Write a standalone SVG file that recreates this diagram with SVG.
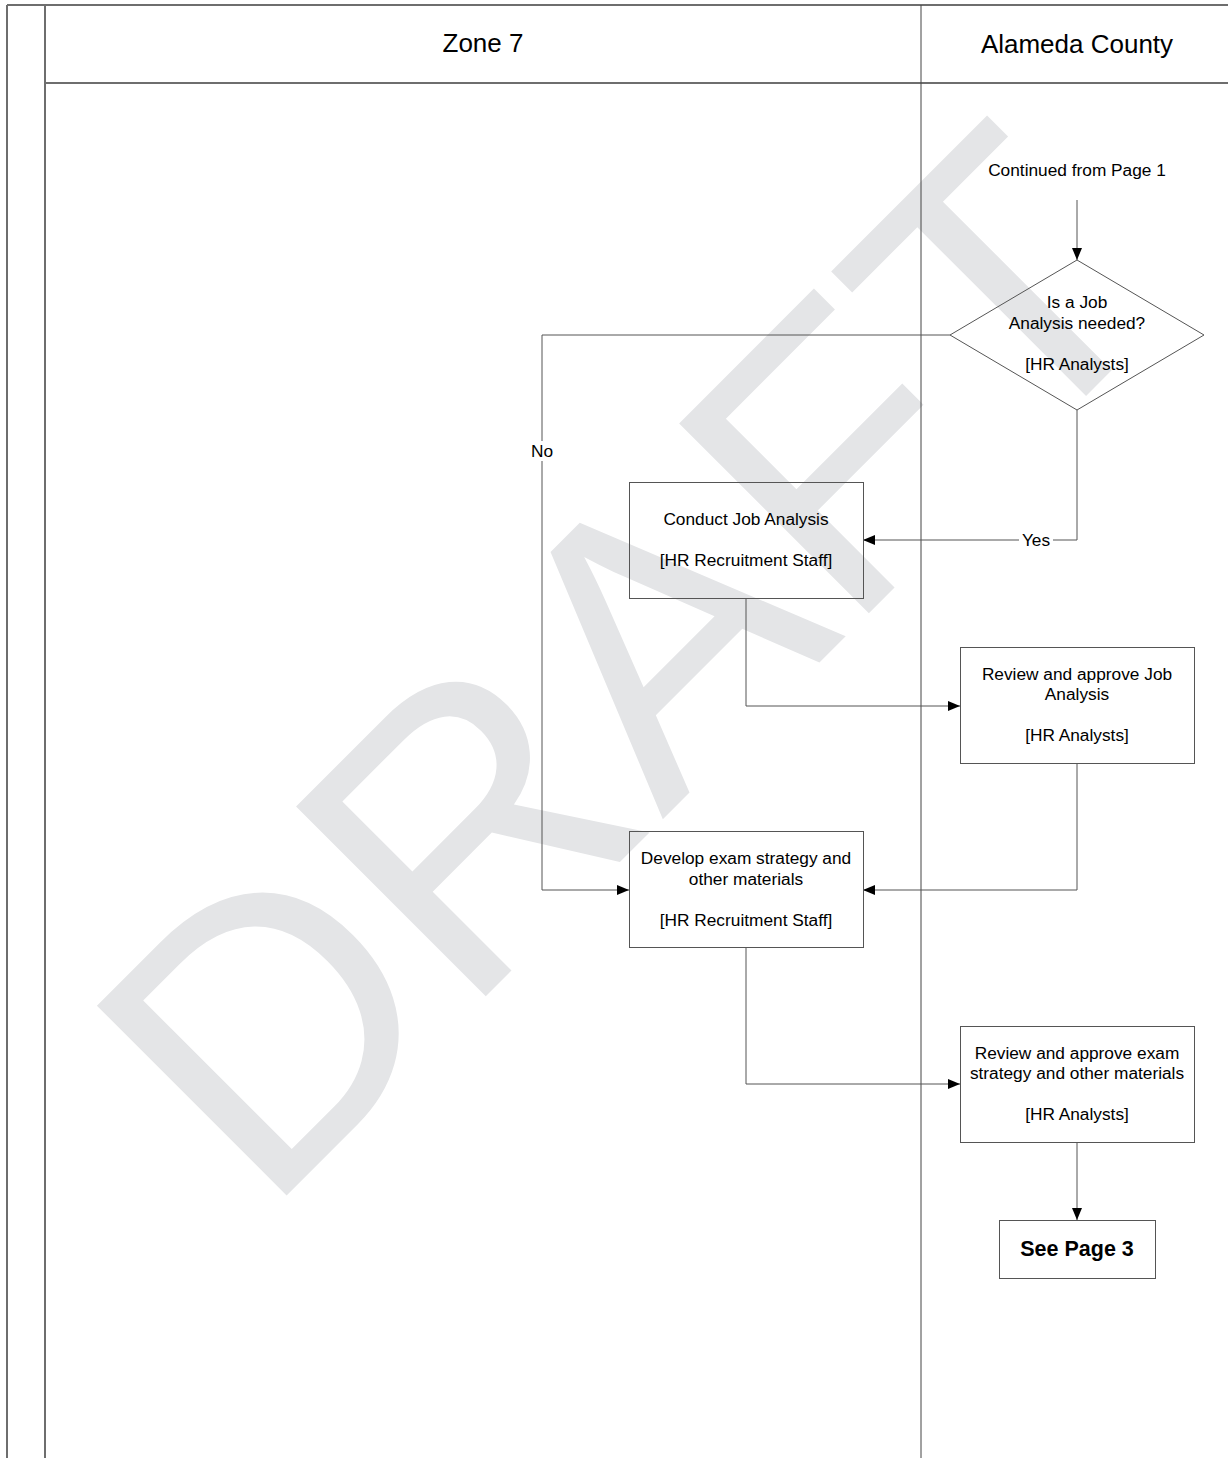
<svg xmlns="http://www.w3.org/2000/svg" width="1228" height="1458" viewBox="0 0 1228 1458">
  <style>
    .frame { stroke: #6e6e6e; stroke-width: 2; fill: none; }
    .lane { stroke: #444; stroke-width: 1; fill: none; }
    .box { stroke: #555; stroke-width: 1; fill: none; }
    .conn { stroke: #555; stroke-width: 1; fill: none; marker-end: url(#arrow); }
    .plain { stroke: #555; stroke-width: 1; fill: none; }
    text { font-family: "Liberation Sans", Arial, sans-serif; fill: #000; }
    .hdr { font-size: 26px; text-anchor: middle; }
    .lbl { font-size: 17.3px; text-anchor: middle; }
    .bold { font-size: 21.5px; font-weight: bold; text-anchor: middle; }
    .wm { font-size: 390px; fill: #e4e5e7; }
  </style>
  <defs>
    <marker id="arrow" markerUnits="userSpaceOnUse" markerWidth="12" markerHeight="10" refX="12" refY="5" orient="auto">
      <path d="M0,0 L12,5 L0,10 z" fill="#000"/>
    </marker>
  </defs>

  <rect width="1228" height="1458" fill="#fff"/>

  <!-- watermark -->
  <text class="wm" transform="translate(264,1218) rotate(-45)">DRAFT</text>

  <!-- swimlane frame -->
  <g id="swimlanes">
    <line class="frame" x1="7" y1="5" x2="1228" y2="5"/>
    <line class="frame" x1="7" y1="5" x2="7" y2="1458"/>
    <line class="frame" x1="45" y1="5" x2="45" y2="1458"/>
    <line class="frame" x1="45" y1="83" x2="1228" y2="83"/>
    <line class="lane" x1="921" y1="5" x2="921" y2="1458"/>
    <text class="hdr" x="483" y="52">Zone 7</text>
    <text class="hdr" x="1077" y="53">Alameda County</text>
  </g>

  <!-- connectors -->
  <g id="connectors">
    <line class="conn" x1="1077" y1="200" x2="1077" y2="260"/>
    <polyline class="conn" points="950,335 542,335 542,890 629,890"/>
    <polyline class="conn" points="1077,410 1077,540 863,540"/>
    <polyline class="conn" points="746,598 746,706 960,706"/>
    <polyline class="conn" points="1077,764 1077,890 863,890"/>
    <polyline class="conn" points="746,948 746,1084 960,1084"/>
    <line class="conn" x1="1077" y1="1142" x2="1077" y2="1220"/>
    <rect x="529" y="441" width="26" height="20" fill="#fff"/>
    <text class="lbl" x="542" y="457">No</text>
    <rect x="1019" y="531" width="34" height="18" fill="#fff"/>
    <text class="lbl" x="1036" y="546">Yes</text>
  </g>

  <g id="start">
    <text class="lbl" x="1077" y="176">Continued from Page 1</text>
  </g>

  <g id="decision">
    <polygon class="box" points="1077,260 1204,335 1077,410 950,335"/>
    <text class="lbl" x="1077" y="308">Is a Job</text>
    <text class="lbl" x="1077" y="329">Analysis needed?</text>
    <text class="lbl" x="1077" y="370">[HR Analysts]</text>
  </g>

  <g id="conduct">
    <rect class="box" x="629.5" y="482.5" width="234" height="116"/>
    <text class="lbl" x="746" y="525">Conduct Job Analysis</text>
    <text class="lbl" x="746" y="566">[HR Recruitment Staff]</text>
  </g>

  <g id="review-job">
    <rect class="box" x="960.5" y="647.5" width="234" height="116"/>
    <text class="lbl" x="1077" y="680">Review and approve Job</text>
    <text class="lbl" x="1077" y="700">Analysis</text>
    <text class="lbl" x="1077" y="741">[HR Analysts]</text>
  </g>

  <g id="develop">
    <rect class="box" x="629.5" y="831.5" width="234" height="116"/>
    <text class="lbl" x="746" y="864">Develop exam strategy and</text>
    <text class="lbl" x="746" y="885">other materials</text>
    <text class="lbl" x="746" y="926">[HR Recruitment Staff]</text>
  </g>

  <g id="review-exam">
    <rect class="box" x="960.5" y="1026.5" width="234" height="116"/>
    <text class="lbl" x="1077" y="1059">Review and approve exam</text>
    <text class="lbl" x="1077" y="1079">strategy and other materials</text>
    <text class="lbl" x="1077" y="1120">[HR Analysts]</text>
  </g>

  <g id="next-page">
    <rect class="box" x="999.5" y="1220.5" width="156" height="58"/>
    <text class="bold" x="1077" y="1256">See Page 3</text>
  </g>
</svg>
